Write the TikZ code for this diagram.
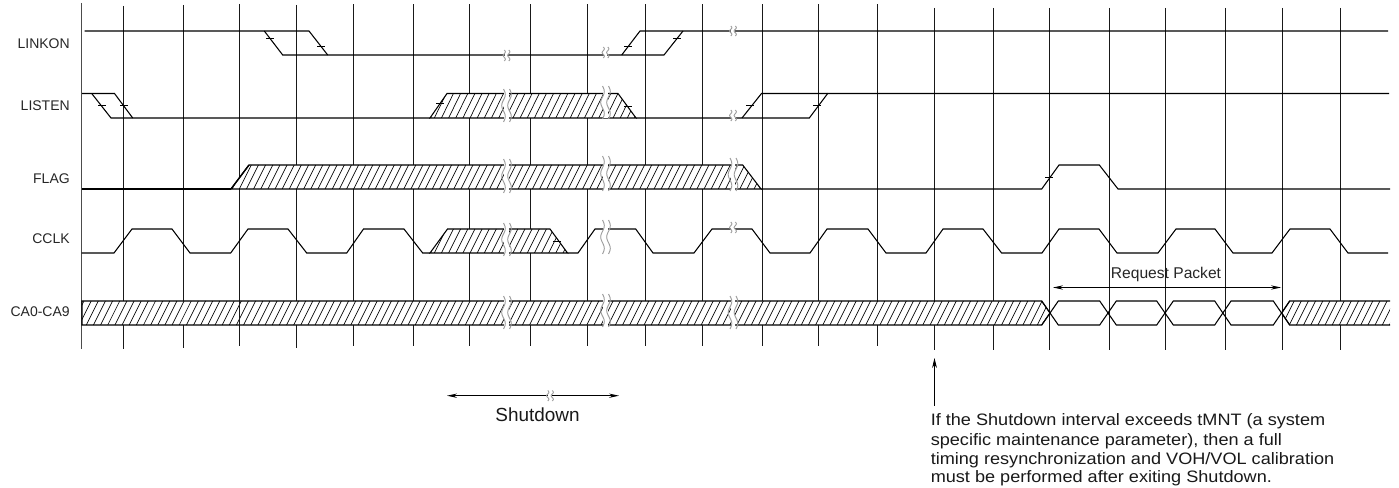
\documentclass[tikz,border=0pt]{standalone}
\usepackage{fontspec}
\setmainfont{Liberation Sans}
\usetikzlibrary{arrows.meta}
\tikzset{
  sig/.style={line width=0.8pt,black,line join=miter},
  grid line/.style={line width=0.72pt,black!90},
  hatch line/.style={line width=0.5pt,black},
  tick mark/.style={line width=0.6pt,black},
  brk line/.style={line width=0.7pt,black!38},
  dim/.style={line width=0.65pt,black,{Stealth[length=7.5pt,width=3.2pt]}-{Stealth[length=7.5pt,width=3.2pt]}},
  sigalname/.style={anchor=base east,font=\fontsize{10.5pt}{12pt}\selectfont,text=black!85,inner sep=0pt},
  notetext/.style={anchor=base west,font=\fontsize{12.4pt}{14pt}\selectfont,text=black!90,inner sep=0pt},
}
% #1 polygon, #2 first x, #3 last x, #4 y top, #5 y bottom
\newcommand{\hatchband}[5]{%
  \fill[white] #1;
  \begin{scope}
    \clip #1;
    \pgfmathsetmacro{\hsecond}{#2+7.15}
    \foreach \hx in {#2,\hsecond,...,#3}
      \draw[hatch line] (\hx,#5) -- ({\hx+12},#4);
  \end{scope}
  \draw[sig] #1;
}
% #1 x, #2 y top, #3 y bottom, #4 distance of the two wavy lines
\newcommand{\brk}[4]{%
  \pgfmathsetmacro{\bl}{#1-#4/2}
  \pgfmathsetmacro{\br}{#1+#4/2}
  \pgfmathsetmacro{\ba}{(#3-#2)>20 ? 1.8 : 1.1}
  \fill[white] ({\bl+0.6},{#2+1}) rectangle ({\br-0.6},{#3-1});
  \draw[brk line] plot[smooth,domain=0:1,samples=19] ({\bl+\ba*sin(540*\x)},{#2+(#3-#2)*\x});
  \draw[brk line] plot[smooth,domain=0:1,samples=19] ({\br+\ba*sin(540*\x)},{#2+(#3-#2)*\x});
}
\newcommand{\tickm}[2]{\draw[tick mark] ({#1-4},#2) -- ({#1+4},#2);}
\begin{document}
\begin{tikzpicture}[x=0.75pt,y=-0.75pt]
\useasboundingbox (0,0) rectangle (1399,488);
% clock grid
\draw[grid line,line width=0.95pt,black!70] (81.5,3) -- (81.5,349);
\foreach \gx/\gt/\gb in {123.5/6/349,183.5/5/348,239.5/4/346,296.5/5/348,353.5/4.5/346,413.5/4.5/346,469.5/4.5/346,530.5/4.5/346,587.5/4.5/346,645.5/4.5/346,702.5/4.5/346,762.5/4.5/346,818.5/4.5/346,877.5/4.5/346,934.5/8/350,993.5/8/350,1049.5/8/350,1109.5/8/350,1165.5/8/350,1225.5/8/350,1282.5/8/350,1340.5/8/350}
  \draw[grid line] (\gx,\gt) -- (\gx,\gb);
% hatched regions
\hatchband{(430,118) -- (447,93.5) -- (618,93.5) -- (636,118) -- cycle}{420}{640}{93.5}{118}
\hatchband{(231,189) -- (249,165) -- (742.7,165) -- (761,189) -- cycle}{225}{765}{165}{189}
\hatchband{(430,253) -- (447.5,229) -- (550,229) -- (567.5,253) -- cycle}{420}{570}{229}{253}
\hatchband{(82,301) -- (1041.7,301) -- (1050,313) -- (1041.7,325) -- (82,325) -- cycle}{72}{1052}{301}{325}
\hatchband{(1390,301) -- (1289.7,301) -- (1281.7,313) -- (1289.7,325) -- (1390,325)}{1275}{1390}{301}{325}
\draw[grid line] (239.5,301) -- (239.5,325);
\draw[sig,line width=1.1pt] (231,189) -- (249,165);
% LINKON
\draw[sig] (84.5,31) -- (309,31) -- (327.7,55);
\draw[sig] (264.3,31) -- (282.7,55) -- (664,55) -- (683,31);
\draw[sig] (621.7,55) -- (640,31) -- (1388,31);
\tickm{270}{38.7}\tickm{321}{46.5}\tickm{628}{46}\tickm{677}{38.7}
% LISTEN
\draw[sig] (82,93.5) -- (114.5,93.5) -- (132.7,118);
\draw[sig] (91.7,93.5) -- (111,118) -- (430,118);
\draw[sig] (636,118) -- (809.3,118) -- (827.7,93.5) -- (1389,93.5);
\draw[sig] (742,118) -- (761.5,93.5) -- (827.7,93.5);
\tickm{102}{105.5}\tickm{124}{105.5}\tickm{440}{103.5}\tickm{628}{106.5}\tickm{750}{105.5}\tickm{817}{105.5}
% FLAG
\draw[sig] (82,189) -- (231,189);
\draw[sig] (761,189) -- (1041.7,189) -- (1059,165) -- (1099.3,165) -- (1118,189) -- (1390,189);
\tickm{1049}{177}
% CCLK
\draw[sig] (81.5,253) -- (114,253) -- (132,229) -- (172,229) -- (190,253) -- (230.7,253) -- (248,229) -- (288,229) -- (306.7,253) -- (346.7,253) -- (363.5,229) -- (404,229) -- (422.7,253) -- (430,253);
\draw[sig] (567.5,253) -- (578,253) -- (595,229) -- (635.7,229) -- (653,253) -- (694,253) -- (712,229) -- (752,229) -- (770,253) -- (810,253) -- (827,229) -- (868,229) -- (886,253) -- (926,253) -- (943,229) -- (983,229) -- (1001.6,253) -- (1042,253) -- (1059,229) -- (1099,229) -- (1117,253) -- (1158,253) -- (1176,229) -- (1215,229) -- (1233,253) -- (1272,253) -- (1290,229) -- (1330,229) -- (1348,253) -- (1388,253);
\tickm{557}{241}
% CA0-CA9 data eyes
\draw[sig] (1041.7,301) -- (1058.3,325) -- (1099.7,325) -- (1116.3,301) -- (1156.7,301) -- (1173.3,325) -- (1214.7,325) -- (1231,301) -- (1273.3,301) -- (1289.7,325);
\draw[sig] (1041.7,325) -- (1058.3,301) -- (1099.7,301) -- (1116.3,325) -- (1156.7,325) -- (1173.3,301) -- (1214.7,301) -- (1231,325) -- (1273.3,325) -- (1289.7,301);
% breaks
\brk{506.5}{50}{61}{4.5}\brk{605.5}{47}{58}{4.5}\brk{733}{26}{36}{4.5}
\brk{506.5}{89}{122}{6}\brk{605.5}{86}{119}{6}\brk{733}{110}{121}{4.5}
\brk{506.5}{159}{193}{6}\brk{605.5}{156}{191}{6}\brk{733}{158}{191}{6}
\brk{506.5}{223}{256}{6}\brk{605.5}{220}{254}{6}\brk{733}{222}{233}{4.5}
\brk{506.5}{296}{329}{6}\brk{605.5}{294}{327}{6}\brk{733}{296}{329}{6}
% signal names
\node[sigalname] (nLinkon) at (70,48.7) {LINKON};
\node[sigalname] (nListen) at (70,111) {LISTEN};
\node[sigalname] (nFlag) at (70,183.3) {FLAG};
\node[sigalname] (nCclk) at (70,244) {CCLK};
\node[sigalname] (nCa) at (70,316) {CA0-CA9};
% request packet
\coordinate (rpL) at (1053,287.5);
\coordinate (rpR) at (1281,287.5);
\draw[dim] (rpL) -- (rpR);
\node[anchor=base,font=\fontsize{11.7pt}{13pt}\selectfont,text=black!85,inner sep=0pt] (nReq) at (1166,279) {Request Packet};
% shutdown
\coordinate (sdL) at (447,395.7);
\coordinate (sdR) at (619,395.7);
\draw[dim] (sdL) -- (sdR);
\brk{550}{390.5}{401}{4.5}
\node[anchor=base,font=\fontsize{14.2pt}{16pt}\selectfont,text=black!90,inner sep=0pt] (nShut) at (537.5,421) {Shutdown};
% note
\coordinate (upT) at (934.5,358);
\coordinate (upB) at (934.5,405.7);
\draw[line width=0.65pt,black,-{Stealth[length=7.5pt,width=3.6pt]}] (upB) -- (upT);
\node[notetext] (n1) at (930.5,425) {\scalebox{1.095}[1]{If the Shutdown interval exceeds tMNT (a system}};
\node[notetext] (n2) at (930.5,445) {\scalebox{1.095}[1]{specific maintenance parameter), then a full}};
\node[notetext] (n3) at (930.5,464) {\scalebox{1.095}[1]{timing resynchronization and VOH/VOL calibration}};
\node[notetext] (n4) at (930.5,482.5) {\scalebox{1.095}[1]{must be performed after exiting Shutdown.}};
\end{tikzpicture}
\end{document}
